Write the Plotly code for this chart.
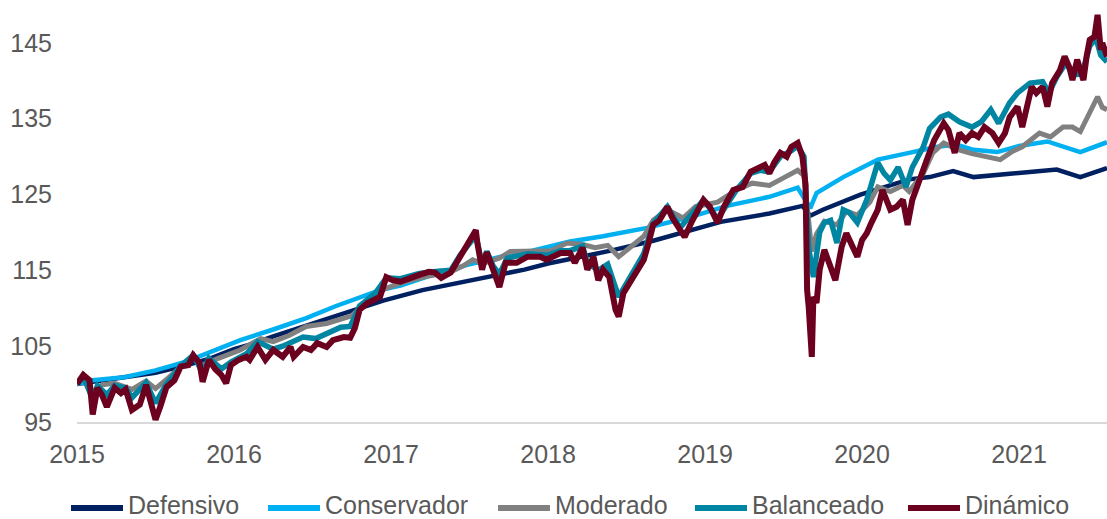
import plotly.graph_objects as go

# ---------------- data (fractional year, index value) ----------------
def_t = [2015.00, 2015.10, 2015.30, 2015.50, 2015.70, 2015.85, 2016.00, 2016.10, 2016.25, 2016.50,
         2016.75, 2016.95, 2017.20, 2017.45, 2017.63, 2017.85, 2018.00, 2018.20, 2018.40, 2018.67,
         2018.90, 2019.10, 2019.41, 2019.62, 2019.67, 2019.75, 2019.99, 2020.15, 2020.30, 2020.43,
         2020.58, 2020.71, 2020.86, 2021.07, 2021.24, 2021.39, 2021.56]
def_v = [100.0, 100.3, 100.8, 101.5, 102.5, 103.4, 104.6, 105.2, 106.3, 108.0,
         109.7, 111.0, 112.4, 113.4, 114.1, 115.1, 115.9, 116.7, 117.6, 118.9,
         120.3, 121.4, 122.5, 123.5, 122.2, 123.0, 125.0, 126.1, 127.0, 127.3,
         128.1, 127.3, 127.6, 127.9, 128.3, 127.3, 128.5]

con_t = [2015.00, 2015.10, 2015.30, 2015.50, 2015.70, 2015.85, 2016.04, 2016.25, 2016.46, 2016.65,
         2016.80, 2016.93, 2017.06, 2017.25, 2017.48, 2017.70, 2017.90, 2018.14, 2018.35, 2018.63,
         2018.90, 2019.14, 2019.41, 2019.59, 2019.67, 2019.71, 2019.88, 2020.10, 2020.30, 2020.48,
         2020.60, 2020.71, 2020.86, 2021.00, 2021.18, 2021.30, 2021.39, 2021.56]
con_v = [100.0, 100.5, 100.9, 101.8, 103.0, 104.2, 105.8, 107.2, 108.7, 110.3,
         111.5, 112.4, 113.0, 114.3, 115.7, 116.8, 117.6, 118.8, 119.5, 120.6,
         122.0, 123.5, 124.7, 125.9, 123.2, 125.2, 127.3, 129.6, 130.5, 131.3,
         131.6, 130.9, 130.6, 131.4, 132.0, 131.2, 130.6, 131.9]

mod_t = [2015.00, 2015.04, 2015.10, 2015.16, 2015.24, 2015.35, 2015.44, 2015.50, 2015.57, 2015.66,
         2015.74, 2015.80, 2015.90, 2016.04, 2016.17, 2016.25, 2016.35, 2016.46, 2016.59, 2016.68,
         2016.75, 2016.85, 2016.92, 2016.99, 2017.10, 2017.25, 2017.38, 2017.46, 2017.52, 2017.58,
         2017.69, 2017.76, 2017.90, 2018.02, 2018.12, 2018.22, 2018.30, 2018.38, 2018.45, 2018.55,
         2018.61, 2018.67, 2018.76, 2018.86, 2018.94, 2019.08, 2019.20, 2019.30, 2019.41, 2019.50,
         2019.59, 2019.63, 2019.66, 2019.68, 2019.71, 2019.76, 2019.84, 2019.90, 2019.97, 2020.05,
         2020.10, 2020.18, 2020.26, 2020.30, 2020.39, 2020.45, 2020.52, 2020.60, 2020.70, 2020.80,
         2020.88, 2020.95, 2021.02, 2021.13, 2021.20, 2021.28, 2021.34, 2021.39, 2021.45, 2021.50,
         2021.53, 2021.56]
mod_v = [100.0, 100.9, 99.0, 99.9, 100.1, 99.3, 100.4, 99.4, 100.6, 102.3,
         103.5, 102.5, 103.4, 104.5, 106.0, 105.6, 106.4, 107.6, 108.0, 108.5,
         109.0, 111.0, 112.2, 112.8, 113.6, 114.3, 114.8, 115.6, 116.4, 115.9,
         116.6, 117.5, 117.6, 117.6, 118.6, 118.4, 118.0, 118.3, 116.8, 118.5,
         119.5, 121.6, 123.0, 121.9, 123.4, 124.0, 125.6, 126.5, 126.2, 127.2,
         128.2, 127.5, 121.0, 117.5, 119.8, 121.5, 121.0, 122.8, 122.3, 124.0,
         126.0, 125.4, 126.2, 125.4, 127.8, 130.5, 131.8, 131.0, 130.4, 130.0,
         129.6, 130.6, 131.3, 133.1, 132.6, 133.9, 133.9, 133.3, 135.8, 137.9,
         136.5, 136.2]

bal_t = [2015.00, 2015.04, 2015.10, 2015.13, 2015.19, 2015.24, 2015.31, 2015.35, 2015.44, 2015.50,
         2015.57, 2015.66, 2015.74, 2015.80, 2015.84, 2015.92, 2015.98, 2016.08, 2016.15, 2016.25,
         2016.31, 2016.44, 2016.52, 2016.59, 2016.68, 2016.74, 2016.80, 2016.90, 2016.97, 2017.06,
         2017.18, 2017.30, 2017.38, 2017.44, 2017.50, 2017.54, 2017.58, 2017.61, 2017.65, 2017.69,
         2017.74, 2017.87, 2018.00, 2018.08, 2018.14, 2018.22, 2018.25, 2018.32, 2018.38, 2018.45,
         2018.52, 2018.61, 2018.67, 2018.76, 2018.84, 2018.99, 2019.08, 2019.20, 2019.29, 2019.35,
         2019.41, 2019.48, 2019.55, 2019.59, 2019.63, 2019.66, 2019.69, 2019.73, 2019.76, 2019.80,
         2019.84, 2019.88, 2019.92, 2019.97, 2020.03, 2020.10, 2020.14, 2020.18, 2020.23, 2020.28,
         2020.32, 2020.39, 2020.43, 2020.50, 2020.55, 2020.62, 2020.70, 2020.76, 2020.82, 2020.87,
         2020.94, 2020.99, 2021.07, 2021.15, 2021.19, 2021.24, 2021.30, 2021.34, 2021.40, 2021.45,
         2021.49, 2021.52, 2021.56]
bal_v = [100.0, 101.0, 98.0, 99.8, 98.6, 99.8, 99.5, 98.2, 100.2, 97.5,
         100.0, 102.4, 103.8, 101.5, 103.4, 102.0, 102.9, 104.0, 105.6, 104.6,
         105.0, 106.2, 106.0, 106.6, 107.5, 107.6, 110.3, 112.0, 114.0, 113.9,
         114.6, 114.9, 115.0, 117.0, 118.6, 119.6, 115.8, 117.5, 115.6, 114.5,
         116.6, 117.2, 117.0, 117.6, 117.6, 118.2, 116.0, 115.0, 115.8, 111.5,
         114.0, 117.2, 121.2, 123.4, 120.6, 124.3, 121.8, 125.6, 127.8, 128.2,
         128.0, 130.0, 130.8, 131.4, 130.0, 118.0, 114.1, 120.0, 121.3, 121.6,
         118.6, 123.0, 122.6, 121.3, 124.3, 129.2, 127.8, 126.9, 128.6, 126.0,
         128.6, 131.3, 133.7, 135.2, 135.6, 134.6, 133.9, 134.6, 136.2, 134.4,
         137.1, 138.4, 139.7, 139.9, 138.4, 140.5, 142.4, 140.8, 140.9, 144.6,
         145.6, 143.4, 142.5]

din_t = [2015.00, 2015.04, 2015.08, 2015.10, 2015.13, 2015.16, 2015.19, 2015.24, 2015.28, 2015.31,
         2015.35, 2015.40, 2015.44, 2015.47, 2015.50, 2015.53, 2015.57, 2015.62, 2015.66, 2015.71,
         2015.74, 2015.78, 2015.80, 2015.84, 2015.88, 2015.92, 2015.95, 2015.98, 2016.03, 2016.08,
         2016.10, 2016.15, 2016.20, 2016.25, 2016.31, 2016.36, 2016.38, 2016.44, 2016.49, 2016.53,
         2016.59, 2016.63, 2016.70, 2016.74, 2016.77, 2016.80, 2016.85, 2016.89, 2016.93, 2016.97,
         2017.01, 2017.06, 2017.10, 2017.14, 2017.18, 2017.24, 2017.28, 2017.32, 2017.38, 2017.44,
         2017.48, 2017.51, 2017.54, 2017.55, 2017.58, 2017.61, 2017.65, 2017.69, 2017.73, 2017.80,
         2017.87, 2017.95, 2017.99, 2018.08, 2018.14, 2018.17, 2018.22, 2018.25, 2018.29, 2018.32,
         2018.35, 2018.39, 2018.43, 2018.45, 2018.48, 2018.52, 2018.57, 2018.61, 2018.64, 2018.67,
         2018.71, 2018.76, 2018.79, 2018.84, 2018.87, 2018.92, 2018.99, 2019.03, 2019.08, 2019.12,
         2019.18, 2019.24, 2019.29, 2019.35, 2019.38, 2019.41, 2019.44, 2019.48, 2019.52, 2019.55,
         2019.59, 2019.62, 2019.64, 2019.65, 2019.66, 2019.68, 2019.69, 2019.71, 2019.73, 2019.76,
         2019.79, 2019.83, 2019.87, 2019.90, 2019.94, 2019.97, 2020.00, 2020.03, 2020.06, 2020.10,
         2020.13, 2020.15, 2020.18, 2020.22, 2020.26, 2020.29, 2020.32, 2020.35, 2020.39, 2020.42,
         2020.46, 2020.52, 2020.55, 2020.59, 2020.62, 2020.66, 2020.70, 2020.74, 2020.78, 2020.83,
         2020.87, 2020.91, 2020.94, 2020.99, 2021.02, 2021.05, 2021.08, 2021.11, 2021.15, 2021.18,
         2021.21, 2021.26, 2021.29, 2021.32, 2021.34, 2021.37, 2021.41, 2021.43, 2021.45, 2021.48,
         2021.50, 2021.52, 2021.53, 2021.56]
din_v = [100.0, 101.2, 100.5, 96.0, 99.5, 98.5, 97.0, 99.5, 98.8, 99.3,
         96.6, 97.3, 99.9, 97.5, 95.3, 97.0, 99.6, 100.5, 102.3, 102.5,
         103.8, 102.8, 100.3, 103.2, 102.0, 101.2, 100.1, 102.5, 103.2, 103.6,
         103.2, 104.9, 103.2, 104.5, 103.6, 104.9, 103.6, 104.9, 104.5, 105.4,
         104.9, 105.8, 106.2, 106.1, 107.4, 109.8, 110.7, 111.1, 111.5, 114.1,
         113.7, 113.5, 113.7, 114.1, 114.4, 114.8, 114.7, 114.0, 114.7, 116.8,
         118.4, 119.4, 120.3, 118.6, 115.1, 117.4, 115.1, 112.8, 116.0, 116.0,
         116.8, 116.8, 116.4, 117.3, 117.3, 116.0, 118.0, 115.1, 116.8, 113.7,
         115.1, 114.1, 109.8, 108.9, 112.0, 113.3, 115.1, 116.4, 118.6, 121.0,
         121.6, 123.4, 122.0, 120.3, 119.4, 121.6, 124.3, 123.4, 121.3, 123.4,
         125.6, 126.0, 128.0, 128.6, 128.9, 127.8, 129.2, 130.5, 130.0, 131.3,
         131.8, 130.0, 126.3, 112.4, 110.2, 103.6, 111.5, 110.7, 115.1, 117.7,
         116.0, 113.7, 118.1, 119.9, 118.1, 116.8, 119.0, 119.9, 121.3, 123.0,
         125.6, 124.3, 123.0, 123.4, 124.3, 121.0, 124.3, 126.0, 128.6, 130.0,
         132.2, 134.4, 133.5, 130.5, 133.1, 132.2, 133.1, 132.6, 133.9, 133.1,
         131.8, 133.1, 135.2, 136.6, 133.9, 136.6, 139.2, 138.4, 139.2, 136.6,
         139.7, 141.4, 143.2, 141.8, 140.1, 142.8, 140.1, 143.2, 145.4, 145.8,
         148.7, 144.1, 145.0, 143.2]

names = ["Defensivo", "Conservador", "Moderado", "Balanceado", "Dinámico"]
colors = ["#002060", "#00B0F0", "#808080", "#0086A3", "#6B001F"]
widths = [4.5, 4.5, 5, 5.5, 6]
year_ticks = [2015, 2016, 2017, 2018, 2019, 2020, 2021]
y_ticks = [95, 105, 115, 125, 135, 145]

series = [(def_t, def_v), (con_t, con_v), (mod_t, mod_v), (bal_t, bal_v), (din_t, din_v)]

FONT = "Liberation Sans, Arial, sans-serif"
GREY = "#595959"
W, H = 1107, 519
ML, MR, MT, MB = 77, 0, 5, 97
PW, PH = W - ML - MR, H - MT - MB

def px_x(px):
    return (px - ML) / PW

def px_y(py):
    return (H - MB - py) / PH

fig = go.Figure()
for (t, v), name, col, w in zip(series, names, colors, widths):
    fig.add_trace(go.Scatter(x=t, y=v, mode="lines", name=name,
                             line=dict(color=col, width=w), showlegend=False))

# legend drawn below the plot: line sample + label for each series
legend_start = [68, 265, 495, 692, 905]
legend_y = 505
for name, col, x0 in zip(names, colors, legend_start):
    fig.add_shape(type="line", xref="paper", yref="paper",
                  x0=px_x(x0 + 3), x1=px_x(x0 + 55), y0=px_y(508), y1=px_y(508),
                  line=dict(color=col, width=6))
    fig.add_annotation(xref="paper", yref="paper", x=px_x(x0 + 59), y=px_y(legend_y),
                       text=name, showarrow=False, xanchor="left", yanchor="middle",
                       borderpad=0, height=24, valign="middle",
                       font=dict(family=FONT, size=25, color=GREY))

fig.update_layout(
    width=W, height=H,
    margin=dict(l=ML, r=MR, t=MT, b=MB, autoexpand=False),
    paper_bgcolor="white", plot_bgcolor="white",
    font=dict(family=FONT, size=25, color=GREY),
    showlegend=False,
)
fig.update_xaxes(range=[2015, 2021.56], tickmode="array", tickvals=year_ticks,
                 ticktext=[str(y) for y in year_ticks], automargin=False,
                 showgrid=False, zeroline=False, showline=True,
                 linecolor="#D9D9D9", linewidth=2, ticks="",
                 tickfont=dict(family=FONT, size=25, color=GREY), ticklabelstandoff=9)
fig.update_yaxes(range=[95, 150], tickmode="array", tickvals=y_ticks, automargin=False,
                 showgrid=False, zeroline=False, showline=False, ticks="",
                 tickfont=dict(family=FONT, size=25, color=GREY), ticklabelstandoff=24)

fig.write_html("out.html", config={"displayModeBar": False},
               post_script="document.body.style.margin='0px';document.body.style.overflow='hidden';")
